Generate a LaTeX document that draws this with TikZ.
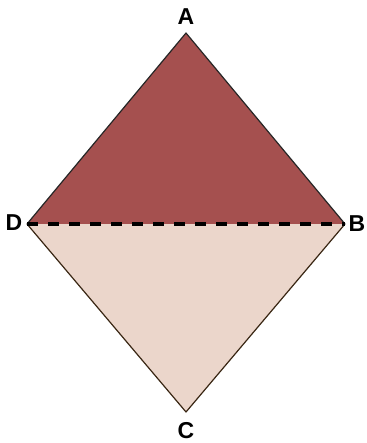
\documentclass[tikz,border=0pt]{standalone}
\usepackage{fontspec}
\setmainfont{Liberation Sans}
\definecolor{topred}{HTML}{A5504F}
\definecolor{lowbeige}{HTML}{EBD6CB}
\begin{document}
\begin{tikzpicture}[
        x=1pt, y=-1pt,
        line join=round,
        lbl/.style={font=\fontsize{23}{23}\selectfont\bfseries, inner sep=0pt},
    ]
    \useasboundingbox (0,0) rectangle (366,443);

    % vertices of the rhombus
    \coordinate (A) at (186,33);
    \coordinate (B) at (345,224);
    \coordinate (C) at (186,412);
    \coordinate (D) at (27,224);

    % ---- upper and lower halves ----
    \fill[topred] (D) -- (A) -- (B) -- cycle;
    \fill[lowbeige] (D) -- (C) -- (B) -- cycle;

    % ---- outline ----
    \draw[line width=1.2pt, black!85] (D) -- (A) -- (B);
    \draw[line width=1.2pt, black!70!brown] (D) -- (C) -- (B);

    % diagonal DB
    \draw[line width=4pt, dash pattern=on 11pt off 10pt] (D) -- (B);

    % labels
    \node[lbl] (lA) at (186,17) {A};
    \node[lbl] (lB) at (357,224) {B};
    \node[lbl] (lC) at (186,431) {C};
    \node[lbl] (lD) at (14,223) {D};
\end{tikzpicture}
\end{document}
